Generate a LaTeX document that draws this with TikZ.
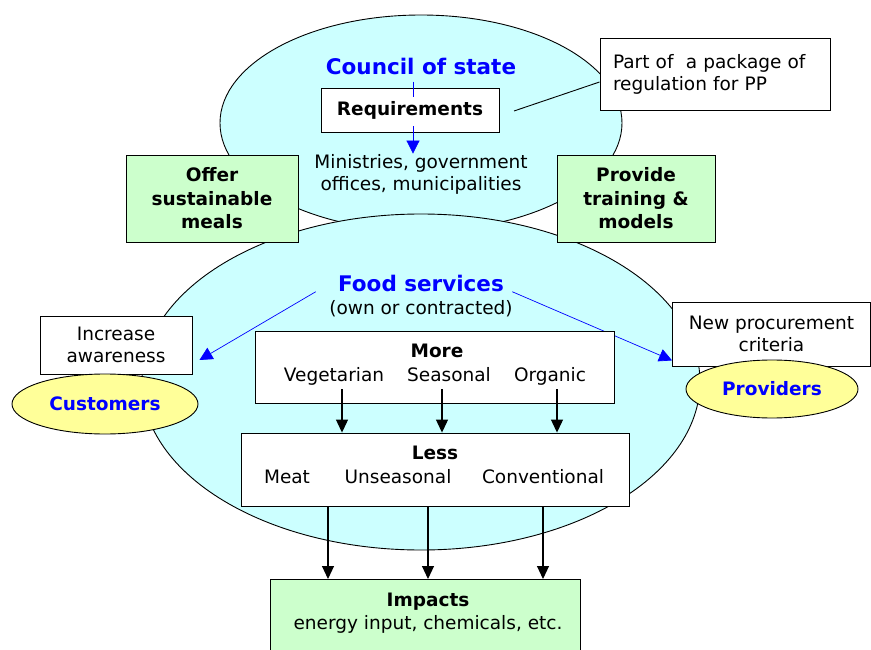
\documentclass[tikz,border=0pt]{standalone}
\usepackage{fontspec}
\setmainfont{DejaVu Sans}
\usetikzlibrary{arrows.meta,shapes.geometric}
\definecolor{lightcyan}{HTML}{CCFFFF}
\definecolor{lightgreen}{HTML}{CCFFCC}
\definecolor{paleyellow}{HTML}{FFFF99}
\definecolor{titleblue}{HTML}{0000FF}

\begin{document}
\begin{tikzpicture}[x=1pt, y=-1pt, line width=0.9pt,
  every node/.style={inner sep=0pt, font=\fontsize{18.5}{22}\selectfont},
  boldtxt/.style={font=\fontsize{18.5}{22}\selectfont\bfseries},
  txtbox/.style={draw, fill=white, align=center},
  greenbox/.style={draw, fill=lightgreen, align=center, font=\fontsize{18.5}{23.5}\selectfont\bfseries},
  actor/.style={draw, ellipse, fill=paleyellow, text=titleblue, font=\fontsize{18.5}{22}\selectfont\bfseries},
  heading/.style={text=titleblue, font=\fontsize{21.5}{26}\selectfont\bfseries},
  arr/.style={line width=1.1pt, -{Triangle[length=13pt, width=12pt]}},
  bluearr/.style={titleblue, line width=0.7pt, -{Triangle[length=13pt, width=13pt]}}]
  \useasboundingbox (0,0) rectangle (871,650);
  % the two spheres
  \draw[fill=lightcyan] (421,123) ellipse [x radius=201pt, y radius=108pt];
  \draw[fill=lightcyan] (421,382) ellipse [x radius=279pt, y radius=168pt];
  % council of state
  \node[heading, anchor=base] (council) at (421,75) {Council of state};
  \node[txtbox, boldtxt, minimum width=178pt, minimum height=44pt] (req) at (410,110) {Requirements};
  \node[align=center] (min) at (421,174) {Ministries, government\\offices, municipalities};
  \draw[titleblue, line width=0.7pt] ([xshift=3pt, yshift=6pt]req.north) -- ([xshift=3pt, yshift=-9pt]req.north);
  \draw[bluearr] ([xshift=3pt, yshift=6pt]req.south) -- ([xshift=3pt]req.south |- min.north);
  % package note
  \node[txtbox, align=left, text width=204pt, minimum width=230pt, minimum height=72pt] (pkg) at (715,74) {Part of\ \ a package of\\regulation for PP};
  \coordinate (pkgfoot) at (514,111);
  \draw (pkgfoot) -- ([yshift=-8pt]pkg.west);
  % side boxes
  \node[greenbox, minimum width=172pt, minimum height=87pt] (meals) at (212,198.5) {Offer\\sustainable\\meals};
  \node[greenbox, minimum width=158pt, minimum height=87pt] (train) at (636,198.5) {Provide\\training \&\\models};
  % food services
  \node[heading, anchor=base] (food) at (421,291) {Food services};
  \node[anchor=base] (own) at (421,314) {(own or contracted)};
  \node[txtbox, minimum width=152pt, minimum height=58pt] (aware) at (116,345) {Increase\\awareness};
  \node[actor, minimum width=186pt, minimum height=60pt] (cust) at (105,404) {Customers};
  \node[txtbox, minimum width=198pt, minimum height=64pt] (proc) at (771.5,334) {New procurement\\criteria};
  \node[actor, minimum width=172pt, minimum height=58pt] (prov) at (772,389) {Providers};
  \draw[bluearr] ([xshift=-22pt]food.south west) -- ([shift={(7pt,-15pt)}]aware.east);
  \draw[bluearr] ([xshift=8pt]food.south east) -- ([yshift=6pt]proc.south west);
  % more
  \node[txtbox, minimum width=359pt, minimum height=72pt] (more) at (434.5,367) {};
  \node[boldtxt, anchor=base] (moretitle) at (437,357) {More};
  \foreach \n/\x/\s in {veg/334/Vegetarian, seas/449/Seasonal, org/550/Organic}
    \node[anchor=base] (\n) at (\x,381) {\s};
  % less
  \node[txtbox, minimum width=388pt, minimum height=73pt] (less) at (435,469.5) {};
  \node[boldtxt, anchor=base] (lesstitle) at (435,459) {Less};
  \foreach \n/\x/\s in {meat/287/Meat, unseas/398/Unseasonal, conv/543/Conventional}
    \node[anchor=base] (\n) at (\x,483) {\s};
  \foreach \n/\dx in {veg/8,seas/-7,org/7}
    \draw[arr] ([xshift=\dx pt, yshift=-8pt]\n.base) -- ([xshift=\dx pt]\n.base |- less.north);
  % impacts
  \node[draw, fill=lightgreen, minimum width=310pt, minimum height=80pt, anchor=north] (imp) at (425,579) {};
  \node[boldtxt, anchor=base] (imptitle) at (428,606) {Impacts};
  \node[anchor=base] (impnote) at (428,629) {energy input, chemicals, etc.};
  \foreach \dx in {-107,-7,108}
    \draw[arr] ([xshift=\dx pt]less.south) -- ([xshift=\dx pt]less.south |- imp.north);
\end{tikzpicture}
\end{document}
